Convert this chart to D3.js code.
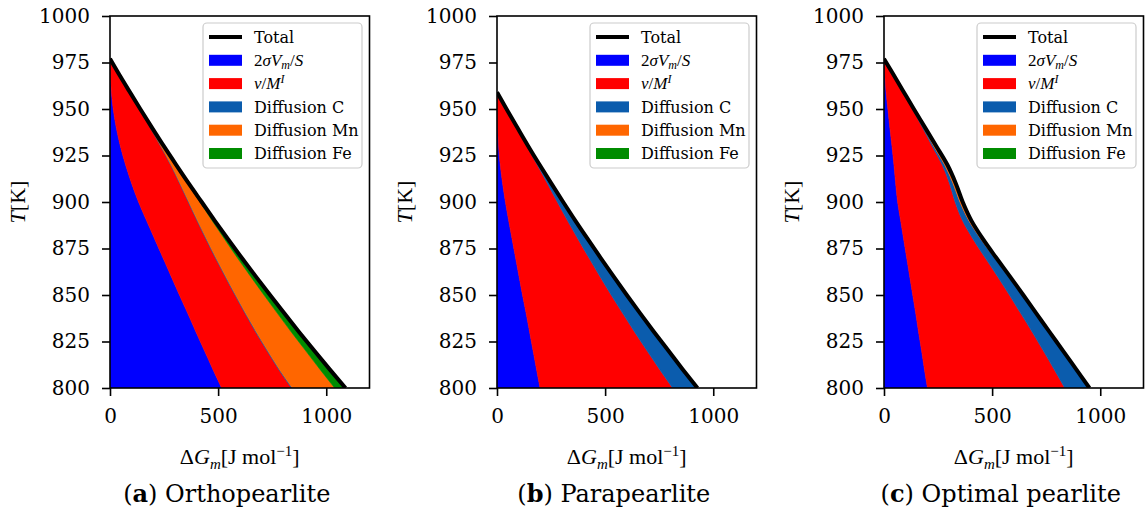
<!DOCTYPE html>
<html>
<head>
<meta charset="utf-8">
<script src="https://cdn.jsdelivr.net/npm/d3@7"></script>
<style>
  html, body { margin: 0; padding: 0; background: #ffffff; }
  svg { display: block; }
</style>
</head>
<body>
<svg id="fig" width="1145" height="511"></svg>
<script>
// ---------------------------------------------------------------
// Driving-force contributions ΔG_m (J/mol) versus temperature T (K)
// ---------------------------------------------------------------

// (a) Orthopearlite
const tempOrtho      = [800, 810, 820, 830, 840, 850, 860, 870, 880, 890, 900, 910, 920, 930, 940, 950, 960, 970, 977];
const surfaceOrtho   = [516, 476, 437, 398, 360, 321, 283, 245, 207, 169, 132, 100, 72, 48, 29, 15, 6, 1.5, 0];
const interfaceOrtho = [323, 304, 289, 276, 265, 257, 249, 242, 237, 233, 230, 222, 208, 186, 157, 122, 80, 33.5, 0];
const diffCOrtho     = [4, 3.5, 3.5, 3.5, 3, 3, 3, 3, 3, 2.5, 2.5, 2, 2, 1.5, 1, 0.5, 0.2, 0, 0];
const diffMnOrtho    = [196, 187.5, 175.5, 161.5, 147, 131, 115, 99, 83, 67.5, 51.5, 35, 21, 12, 6.2, 2.2, 0.7, 0, 0];
const diffFeOrtho    = [50, 45, 40, 36, 32, 28, 24, 20, 16, 12, 8, 5, 3, 1.5, 0.8, 0.3, 0.1, 0, 0];

// (b) Parapearlite
const tempPara       = [800, 810, 820, 830, 840, 850, 860, 870, 880, 890, 900, 910, 920, 930, 940, 950, 959];
const surfacePara    = [199, 183, 167, 151, 135, 118, 102, 86, 70, 54, 39, 26, 15, 7.5, 3, 1, 0];
const interfacePara  = [613, 569, 527, 486, 447, 410, 374, 339, 305, 272, 240, 207, 171, 131, 88, 42, 0];
const diffCPara      = [115, 107, 99, 90, 81, 72, 63, 54, 45, 36, 27, 18, 11, 6, 3, 1, 0];
const diffMnPara     = [0, 0, 0, 0, 0, 0, 0, 0, 0, 0, 0, 0, 0, 0, 0, 0, 0];
const diffFePara     = [0, 0, 0, 0, 0, 0, 0, 0, 0, 0, 0, 0, 0, 0, 0, 0, 0];

// (c) Optimal pearlite
const tempOpt        = [800, 810, 820, 830, 840, 850, 860, 870, 880, 890, 900, 910, 920, 930, 940, 950, 960, 970, 977];
const surfaceOpt     = [201, 187, 174, 160, 147, 133, 119, 105, 91, 77, 63, 54, 46, 37, 27, 18, 9, 3, 0];
const interfaceOpt   = [635, 600, 563, 526, 486, 447, 406, 363, 321, 286, 266, 249, 223, 186, 151, 114, 75, 31.5, 0];
const diffCOpt       = [112, 100, 88, 77, 68, 59, 51, 43, 36, 29, 22, 16, 11, 7, 4, 2, 1, 0.5, 0];
const diffMnOpt      = [2, 2, 3, 3, 4, 5, 6, 8, 10, 12, 13, 13, 13, 12, 8, 4, 2, 1, 0];
const diffFeOpt      = [0, 0, 0, 0, 0, 0, 0, 0, 0, 0, 0, 0, 0, 0, 0, 0, 0, 0, 0];

// Axes
const xDomain = [0, 1200];
const yDomain = [800, 1000];
const xTickValues = [0, 500, 1000];
const yTickValues = [800, 825, 850, 875, 900, 925, 950, 975, 1000];

// Sub-figure captions
const captionLetters = ["a", "b", "c"];
const captionNames   = ["Orthopearlite", "Parapearlite", "Optimal pearlite"];

// Series order (stacked left to right) and colours
const seriesKeys   = ["surface", "interface", "diffC", "diffMn", "diffFe"];
const seriesColors = ["#0000ff", "#ff0000", "#0b5cad", "#ff6600", "#008c00"];

// ---------------------------------------------------------------
const panelData = [
  { T: tempOrtho, surface: surfaceOrtho, interface: interfaceOrtho, diffC: diffCOrtho, diffMn: diffMnOrtho, diffFe: diffFeOrtho },
  { T: tempPara,  surface: surfacePara,  interface: interfacePara,  diffC: diffCPara,  diffMn: diffMnPara,  diffFe: diffFePara },
  { T: tempOpt,   surface: surfaceOpt,   interface: interfaceOpt,   diffC: diffCOpt,   diffMn: diffMnOpt,   diffFe: diffFeOpt }
];

// Layout of the three axes boxes
const panelLeft = [110, 497, 884];
const panelWidth = 259.5;
const plotTop = 16, plotBottom = 388;

const TICK_FONT = "'DejaVu Serif', serif";
const MATH_FONT = "'Liberation Serif', 'Times New Roman', serif";

const svg = d3.select("#fig");
const defs = svg.append("defs");

panelData.forEach((pd, p) => {
  const left = panelLeft[p];
  const right = left + panelWidth;
  const x = d3.scaleLinear().domain(xDomain).range([left, right]);
  const y = d3.scaleLinear().domain(yDomain).range([plotBottom, plotTop]);

  const g = svg.append("g");

  // clip region = axes box
  const clipId = "clip" + p;
  defs.append("clipPath").attr("id", clipId)
    .append("rect").attr("x", left).attr("y", plotTop)
    .attr("width", panelWidth).attr("height", plotBottom - plotTop);

  const rows = pd.T.map((t, i) => {
    const r = { T: t };
    seriesKeys.forEach(k => r[k] = pd[k][i]);
    return r;
  });
  const stacked = d3.stack().keys(seriesKeys)(rows);

  const area = d3.area()
    .curve(d3.curveMonotoneY)
    .y(d => y(d.data.T))
    .x0(d => x(d[0]))
    .x1(d => x(d[1]));

  const plot = g.append("g").attr("clip-path", `url(#${clipId})`);

  stacked.forEach((layer, i) => {
    const nonZero = pd[seriesKeys[i]].some(v => v > 0);
    if (!nonZero) return;
    plot.append("path")
      .datum(layer)
      .attr("d", area)
      .attr("fill", seriesColors[i])
      .attr("stroke", seriesColors[i])
      .attr("stroke-width", 0.6);
  });

  // total driving force = top of the stack
  const top = stacked[stacked.length - 1];
  const totalLine = d3.line()
    .curve(d3.curveMonotoneY)
    .y(d => y(d.data.T))
    .x(d => x(d[1]));
  plot.append("path")
    .datum(top)
    .attr("d", totalLine)
    .attr("fill", "none")
    .attr("stroke", "#000")
    .attr("stroke-width", 4);

  // axes
  const fmt = d3.format("d");
  const yAxis = d3.axisLeft(y).tickValues(yTickValues).tickFormat(fmt).tickSize(8).tickSizeOuter(0).tickPadding(12);
  const xAxis = d3.axisBottom(x).tickValues(xTickValues).tickFormat(fmt).tickSize(8).tickSizeOuter(0).tickPadding(13);

  const ga = g.append("g").attr("transform", `translate(${left},0)`).call(yAxis);
  const gb = g.append("g").attr("transform", `translate(0,${plotBottom})`).call(xAxis);
  [ga, gb].forEach(a => {
    a.select(".domain").remove();
    a.selectAll(".tick line").attr("stroke", "#000").attr("stroke-width", 1.6);
    a.selectAll(".tick text")
      .attr("fill", "#000")
      .style("font-family", TICK_FONT)
      .style("font-size", "20px");
  });

  // spines
  g.append("rect")
    .attr("x", left).attr("y", plotTop)
    .attr("width", panelWidth).attr("height", plotBottom - plotTop)
    .attr("fill", "none").attr("stroke", "#000").attr("stroke-width", 1.6);

  // y label: T[K]
  const yl = g.append("text")
    .attr("transform", `translate(${left - 85},${(plotTop + plotBottom) / 2}) rotate(-90)`)
    .attr("text-anchor", "middle")
    .style("font-family", MATH_FONT)
    .style("font-size", "22px")
    .attr("fill", "#000");
  yl.append("tspan").style("font-style", "italic").text("T");
  yl.append("tspan").text("[K]");

  // x label: ΔG_m[J mol^-1]
  const xl = g.append("text")
    .attr("x", (left + right) / 2)
    .attr("y", 464)
    .attr("text-anchor", "middle")
    .style("font-family", MATH_FONT)
    .style("font-size", "22px")
    .attr("fill", "#000");
  xl.append("tspan").text("Δ");
  xl.append("tspan").style("font-style", "italic").text("G");
  xl.append("tspan").style("font-style", "italic").style("font-size", "15px").attr("dy", 5).text("m");
  xl.append("tspan").attr("dy", -5).text("[J mol");
  xl.append("tspan").style("font-size", "15px").attr("dy", -8).text("−1");
  xl.append("tspan").attr("dy", 8).text("]");

  // legend
  const lg = g.append("g");
  lg.append("rect")
    .attr("x", left + 93).attr("y", 23)
    .attr("width", 159).attr("height", 145)
    .attr("rx", 4).attr("ry", 4)
    .attr("fill", "#fff").attr("fill-opacity", 0.8)
    .attr("stroke", "#cccccc").attr("stroke-width", 1.2);

  const rowY = i => 37 + i * 23.3;
  const hx0 = left + 99, hx1 = left + 132, tx = left + 144;

  lg.append("line")
    .attr("x1", hx0).attr("x2", hx1).attr("y1", rowY(0)).attr("y2", rowY(0))
    .attr("stroke", "#000").attr("stroke-width", 4);
  lg.append("text").attr("x", tx).attr("y", rowY(0) + 5.8)
    .style("font-family", TICK_FONT).style("font-size", "16px").attr("fill", "#000")
    .text("Total");

  seriesKeys.forEach((k, i) => {
    const cy = rowY(i + 1);
    lg.append("rect")
      .attr("x", hx0).attr("y", cy - 5.5)
      .attr("width", hx1 - hx0).attr("height", 11)
      .attr("fill", seriesColors[i]);
    const t = lg.append("text").attr("x", tx).attr("y", cy + 5.8).attr("fill", "#000");
    if (k === "surface") {
      t.style("font-family", MATH_FONT).style("font-size", "17px");
      t.append("tspan").text("2");
      t.append("tspan").style("font-style", "italic").text("σV");
      t.append("tspan").style("font-style", "italic").style("font-size", "12px").attr("dy", 3).text("m");
      t.append("tspan").attr("dy", -3).text("/");
      t.append("tspan").style("font-style", "italic").text("S");
    } else if (k === "interface") {
      t.style("font-family", MATH_FONT).style("font-size", "17px");
      t.append("tspan").style("font-style", "italic").text("ν");
      t.append("tspan").text("/");
      t.append("tspan").style("font-style", "italic").text("M");
      t.append("tspan").style("font-style", "italic").style("font-size", "12px").attr("dy", -6).text("I");
    } else {
      const names = { diffC: "Diffusion C", diffMn: "Diffusion Mn", diffFe: "Diffusion Fe" };
      t.style("font-family", TICK_FONT).style("font-size", "16px").text(names[k]);
    }
  });

  // caption
  const cap = g.append("text")
    .attr("x", (left + right) / 2 - 13)
    .attr("y", 502)
    .attr("text-anchor", "middle")
    .style("font-family", TICK_FONT)
    .style("font-size", "24px")
    .attr("fill", "#000");
  cap.append("tspan").text("(");
  cap.append("tspan").style("font-weight", "bold").text(captionLetters[p]);
  cap.append("tspan").text(") " + captionNames[p]);
});
</script>
</body>
</html>
